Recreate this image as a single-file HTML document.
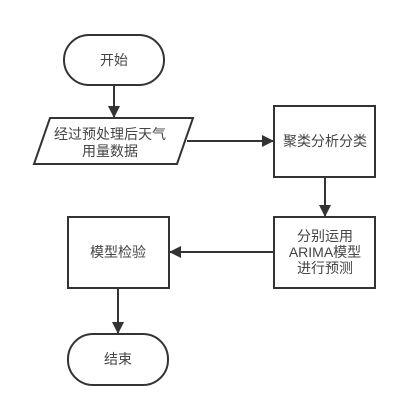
<!DOCTYPE html>
<html><head><meta charset="utf-8"><style>
html,body{margin:0;padding:0;background:#fff;width:419px;height:407px;overflow:hidden}
text{font-family:"Liberation Sans","Noto Sans CJK SC",sans-serif;font-size:14px;fill:#444;text-anchor:middle}
</style></head><body>
<svg width="419" height="407" viewBox="0 0 419 407">
<defs><marker id="a" markerWidth="12" markerHeight="12" refX="11" refY="6" orient="auto" markerUnits="userSpaceOnUse"><path d="M0,0 L12,6 L0,12 z" fill="#333"/></marker></defs>
<g fill="#fff" stroke="#333" stroke-width="2">
<rect x="64" y="35" width="100" height="50" rx="25"/>
<polygon points="50,118 193,118 177,164 34,164"/>
<rect x="274" y="106" width="101" height="71"/>
<rect x="274" y="217" width="101" height="71"/>
<rect x="68" y="217" width="101" height="71"/>
<rect x="68" y="334" width="100" height="51" rx="25"/>
</g>
<g stroke="#333" stroke-width="2" fill="none">
<line x1="114" y1="85" x2="114" y2="117" marker-end="url(#a)"/>
<line x1="187" y1="141" x2="273" y2="141" marker-end="url(#a)"/>
<line x1="325" y1="177" x2="325" y2="216" marker-end="url(#a)"/>
<line x1="274" y1="252" x2="170" y2="252" marker-end="url(#a)"/>
<line x1="118" y1="288" x2="118" y2="333" marker-end="url(#a)"/>
</g>
<text x="114" y="65">开始</text>
<text x="110" y="139">经过预处理后天气</text>
<text x="110" y="156">用量数据</text>
<text x="325" y="146">聚类分析分类</text>
<text x="325" y="241">分别运用</text>
<text x="325" y="257">ARIMA模型</text>
<text x="325" y="273">进行预测</text>
<text x="118" y="257">模型检验</text>
<text x="118" y="364">结束</text>
</svg>
</body></html>
